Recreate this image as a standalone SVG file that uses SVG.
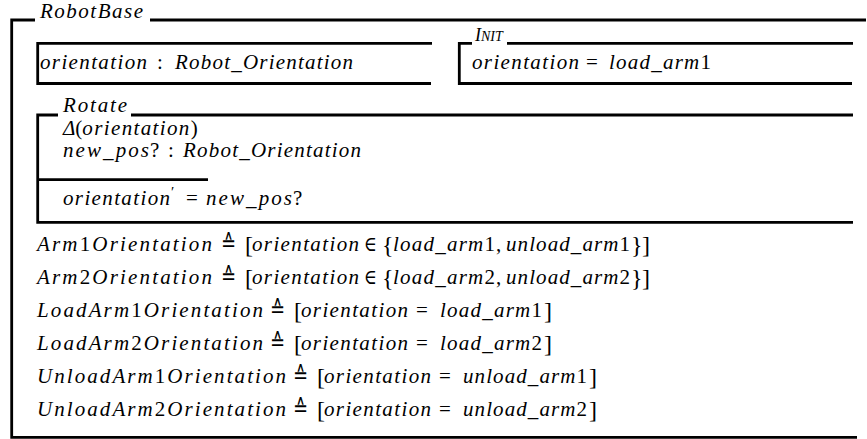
<svg xmlns="http://www.w3.org/2000/svg" width="867" height="439" viewBox="0 0 867 439" font-family="Liberation Serif, DejaVu Serif, serif">
<style>
.ln{fill:none;stroke:#000;stroke-width:2.8;stroke-linejoin:miter;stroke-linecap:butt}
.m{font-family:'Liberation Serif','DejaVu Serif',serif;font-size:21px;font-style:italic;fill:#000}
.u{font-style:normal}
.sym{font-family:'DejaVu Sans','DejaVu Serif',sans-serif;font-style:normal;font-size:23px}
.br{font-style:normal;font-size:24px}
.sc{font-size:14px}
.pr{font-style:normal;font-size:15px}
</style>
<rect width="867" height="439" fill="#fff"/>
<g id="connectors"/>
<g id="robotbase">
  <path class="ln" d="M35,20 H11.7 V437.3 H857"/>
  <path class="ln" d="M150,20 H866"/>
  <text class="m" x="40" y="17.5" textLength="103" lengthAdjust="spacing">RobotBase</text>
</g>
<g id="state">
  <path class="ln" d="M432,43.3 H37.7 V83.5 H431"/>
  <text class="m" x="40" y="69" textLength="107" lengthAdjust="spacing">orientation</text>
  <text class="m u" x="157" y="69">:</text>
  <text class="m" x="175" y="69" textLength="178" lengthAdjust="spacing">Robot_Orientation</text>
</g>
<g id="init">
  <path class="ln" d="M472,43.3 H459.3 V83.5 H852"/>
  <path class="ln" d="M507,43.3 H853"/>
  <text class="m" x="475" y="41" style="font-size:18px">I<tspan class="sc">NIT</tspan></text>
  <text class="m" x="472" y="69" textLength="107" lengthAdjust="spacing">orientation</text>
  <text class="m u" x="586" y="69">=</text>
  <text class="m" x="609" y="69" textLength="102" lengthAdjust="spacing">load_arm<tspan class="u">1</tspan></text>
</g>
<g id="rotate">
  <path class="ln" d="M58,115 H37.7 V222.3 H853"/>
  <path class="ln" d="M131,115 H853"/>
  <path class="ln" d="M37.7,179.7 H208"/>
  <text class="m" x="63" y="112" textLength="64" lengthAdjust="spacing">Rotate</text>
  <text class="m" x="63" y="135">Δ<tspan class="u">(</tspan><tspan textLength="107" lengthAdjust="spacing">orientation</tspan><tspan class="u">)</tspan></text>
  <text class="m" x="63" y="157" textLength="86" lengthAdjust="spacing">new_pos</text>
  <text class="m u" x="150" y="157">?</text>
  <text class="m u" x="168" y="157">:</text>
  <text class="m" x="183" y="157" textLength="178" lengthAdjust="spacing">Robot_Orientation</text>
  <text class="m" x="63" y="205" textLength="107" lengthAdjust="spacing">orientation</text>
  <text class="m pr" x="171" y="197">′</text>
  <text class="m u" x="186" y="205">=</text>
  <text class="m" x="206" y="205" textLength="86" lengthAdjust="spacing">new_pos</text>
  <text class="m u" x="293" y="205">?</text>
</g>
<g id="definitions">
  <text class="m" x="37" y="251" textLength="175" lengthAdjust="spacing">Arm<tspan class="u">1</tspan>Orientation</text>
  <text class="sym" x="221" y="251" textLength="15" lengthAdjust="spacingAndGlyphs">≙</text>
  <text class="m br" x="245" y="253">[</text>
  <text class="m" x="252" y="251" textLength="107" lengthAdjust="spacing">orientation</text>
  <text class="m u" x="364" y="251" textLength="13" lengthAdjust="spacingAndGlyphs">∈</text>
  <text class="m br" x="382" y="253">{</text>
  <text class="m" x="393" y="251" textLength="102" lengthAdjust="spacing">load_arm<tspan class="u">1</tspan></text>
  <text class="m u" x="496" y="251">,</text>
  <text class="m" x="506" y="251" textLength="124" lengthAdjust="spacing">unload_arm<tspan class="u">1</tspan></text>
  <text class="m br" x="631" y="253">}</text>
  <text class="m br" x="642" y="253">]</text>

  <text class="m" x="37" y="284" textLength="175" lengthAdjust="spacing">Arm<tspan class="u">2</tspan>Orientation</text>
  <text class="sym" x="221" y="284" textLength="15" lengthAdjust="spacingAndGlyphs">≙</text>
  <text class="m br" x="245" y="286">[</text>
  <text class="m" x="252" y="284" textLength="107" lengthAdjust="spacing">orientation</text>
  <text class="m u" x="364" y="284" textLength="13" lengthAdjust="spacingAndGlyphs">∈</text>
  <text class="m br" x="382" y="286">{</text>
  <text class="m" x="393" y="284" textLength="102" lengthAdjust="spacing">load_arm<tspan class="u">2</tspan></text>
  <text class="m u" x="496" y="284">,</text>
  <text class="m" x="506" y="284" textLength="124" lengthAdjust="spacing">unload_arm<tspan class="u">2</tspan></text>
  <text class="m br" x="631" y="286">}</text>
  <text class="m br" x="642" y="286">]</text>

  <text class="m" x="37" y="317" textLength="226" lengthAdjust="spacing">LoadArm<tspan class="u">1</tspan>Orientation</text>
  <text class="sym" x="270" y="317" textLength="15" lengthAdjust="spacingAndGlyphs">≙</text>
  <text class="m br" x="294" y="319">[</text>
  <text class="m" x="301" y="317" textLength="107" lengthAdjust="spacing">orientation</text>
  <text class="m u" x="416" y="317">=</text>
  <text class="m" x="440" y="317" textLength="102" lengthAdjust="spacing">load_arm<tspan class="u">1</tspan></text>
  <text class="m br" x="544" y="319">]</text>

  <text class="m" x="37" y="350" textLength="226" lengthAdjust="spacing">LoadArm<tspan class="u">2</tspan>Orientation</text>
  <text class="sym" x="270" y="350" textLength="15" lengthAdjust="spacingAndGlyphs">≙</text>
  <text class="m br" x="294" y="352">[</text>
  <text class="m" x="301" y="350" textLength="107" lengthAdjust="spacing">orientation</text>
  <text class="m u" x="416" y="350">=</text>
  <text class="m" x="440" y="350" textLength="102" lengthAdjust="spacing">load_arm<tspan class="u">2</tspan></text>
  <text class="m br" x="544" y="352">]</text>

  <text class="m" x="37" y="383" textLength="249" lengthAdjust="spacing">UnloadArm<tspan class="u">1</tspan>Orientation</text>
  <text class="sym" x="293" y="383" textLength="15" lengthAdjust="spacingAndGlyphs">≙</text>
  <text class="m br" x="317" y="385">[</text>
  <text class="m" x="324" y="383" textLength="107" lengthAdjust="spacing">orientation</text>
  <text class="m u" x="439" y="383">=</text>
  <text class="m" x="463" y="383" textLength="124" lengthAdjust="spacing">unload_arm<tspan class="u">1</tspan></text>
  <text class="m br" x="589" y="385">]</text>

  <text class="m" x="37" y="416" textLength="249" lengthAdjust="spacing">UnloadArm<tspan class="u">2</tspan>Orientation</text>
  <text class="sym" x="293" y="416" textLength="15" lengthAdjust="spacingAndGlyphs">≙</text>
  <text class="m br" x="317" y="418">[</text>
  <text class="m" x="324" y="416" textLength="107" lengthAdjust="spacing">orientation</text>
  <text class="m u" x="439" y="416">=</text>
  <text class="m" x="463" y="416" textLength="124" lengthAdjust="spacing">unload_arm<tspan class="u">2</tspan></text>
  <text class="m br" x="589" y="418">]</text>
</g>
</svg>
